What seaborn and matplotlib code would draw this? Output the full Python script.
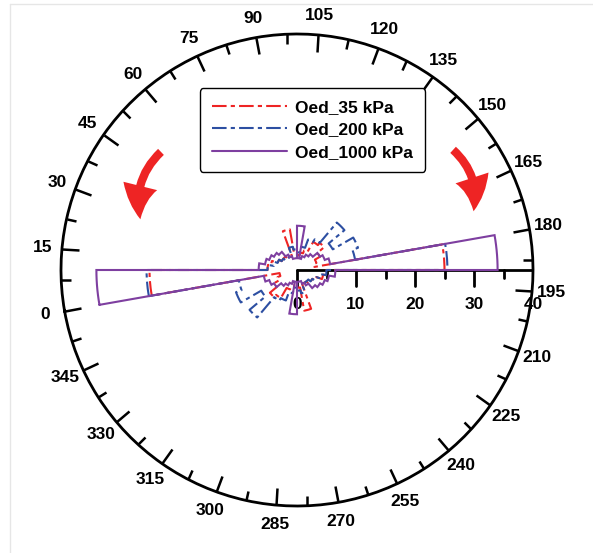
import numpy as np
import matplotlib
matplotlib.use("Agg")
import matplotlib.pyplot as plt
from matplotlib.lines import Line2D
from matplotlib.patches import FancyArrowPatch
import seaborn as sns

# bin starts (deg) for one half of the rose; other half mirrors at +180
bin_start = list(range(0, 180, 10))
oed_35 = [25.0, 5.0, 4.5, 3.5, 3.0, 3.0, 2.5, 2.5, 7.0, 3.0,
          2.5, 3.0, 3.5, 5.5, 6.0, 4.5, 3.5, 3.0]
oed_200 = [25.5, 5.0, 4.0, 3.5, 3.0, 2.5, 2.5, 3.0, 4.0, 3.5,
           3.0, 4.0, 5.5, 6.0, 10.5, 7.0, 11.0, 10.0]
oed_1000 = [34.0, 6.5, 5.5, 5.0, 4.5, 4.0, 3.0, 2.5, 2.0, 2.0,
            7.5, 2.0, 2.5, 3.0, 3.5, 4.5, 5.0, 5.7]
series_labels = ["Oed_35 kPa", "Oed_200 kPa", "Oed_1000 kPa"]
theta_ticks = list(range(0, 360, 15))
r_ticks = [0, 10, 20, 30, 40]
bin_width = 10

sns.set_theme(style="white")
plt.rcParams['font.family'] = ['Liberation Sans', 'DejaVu Sans']
plt.rcParams['font.weight'] = 'bold'
plt.rcParams['text.color'] = 'black'

colors = ['#EE2424', '#2D4FA2', '#7E3FA0']
styles = [(0, (7, 2, 2, 2)), (0, (7, 2, 2, 2)), '-']

fig = plt.figure(figsize=(5.93, 5.53), dpi=100)
rect = [61 / 593, 47 / 553, 472 / 593, 472 / 553]

# cartesian overlay for the radial axis (drawn under the rose)
axr = fig.add_axes(rect)
axr.set_xlim(-40, 40)
axr.set_ylim(-40, 40)
axr.axis('off')
axr.set_zorder(0)
axr.plot([0, 40], [0, 0], color='black', lw=2)
for r in np.arange(0, 41, 5):
    ln = 2.7 if r % 10 == 0 else 1.35
    axr.plot([r, r], [0, -ln], color='black', lw=2)
for r in r_ticks:
    axr.text(r, -5.8, str(r), ha='center', va='center', fontsize=12.5,
             fontweight='bold', color='black')

ax = fig.add_axes(rect, projection='polar')
ax.set_zorder(1)
ax.patch.set_alpha(0)
ax.set_theta_offset(np.deg2rad(190))
ax.set_theta_direction(-1)

# rose outline: an arc per bin, joined by radial steps
starts = bin_start + [b + 180 for b in bin_start]
handles = []
for vals, c, ls, lab in zip([oed_35, oed_200, oed_1000], colors, styles,
                            series_labels):
    full = vals + vals
    th, rr = [], []
    for s, v in zip(starts, full):
        arc = np.linspace(s, s + bin_width, 8)
        th.extend(arc)
        rr.extend([v] * len(arc))
    th.append(th[0])
    rr.append(rr[0])
    line, = ax.plot(np.deg2rad(th), rr, color=c, linestyle=ls, lw=1.5,
                    label=lab, solid_joinstyle='miter')
    handles.append(line)

ax.set_ylim(0, 40)
ax.set_yticks([])
ax.grid(False)
ax.set_xticks(np.deg2rad(theta_ticks))
ax.set_xticklabels([str(t) for t in theta_ticks], fontsize=12.5,
                   fontweight='bold')
ax.set_xticks(np.deg2rad(np.arange(7.5, 360, 15)), minor=True)
# in polar axes the outer ring carries tick2
ax.tick_params(axis='x', which='both', bottom=False, top=True,
               direction='in', color='black', labelcolor='black')
ax.tick_params(axis='x', which='major', length=12, width=1.8, pad=7)
ax.tick_params(axis='x', which='minor', length=7, width=1.8)
ax.spines['polar'].set_linewidth(2)
ax.spines['polar'].set_color('black')

leg = fig.legend(handles, series_labels, loc='center',
                 bbox_to_anchor=(0.527, 0.765), fontsize=12.5,
                 handlelength=4.3, handletextpad=0.5, labelspacing=0.4,
                 borderpad=0.7, frameon=True, fancybox=True,
                 edgecolor='black', framealpha=1)
leg.get_frame().set_linewidth(1)

# the two red curved arrows
for tail, tip, rad in [((163, 150), (141, 222), 0.3),
                       ((451, 148), (473, 214), -0.3)]:
    arr = FancyArrowPatch((tail[0] / 593, 1 - tail[1] / 553),
                          (tip[0] / 593, 1 - tip[1] / 553),
                          transform=fig.transFigure,
                          connectionstyle=f"arc3,rad={rad}",
                          arrowstyle="simple,head_length=2.4,head_width=2.5,tail_width=0.6",
                          mutation_scale=10, color='#EE2424', lw=0)
    fig.add_artist(arr)

# faint frame lines at left and top
fig.add_artist(Line2D([10 / 593, 10 / 593], [0, 1 - 4 / 553],
                      transform=fig.transFigure, color='#e6e6e6', lw=1))
fig.add_artist(Line2D([10 / 593, 1], [1 - 4 / 553, 1 - 4 / 553],
                      transform=fig.transFigure, color='#e6e6e6', lw=1))

fig.savefig('out.png', dpi=100)
